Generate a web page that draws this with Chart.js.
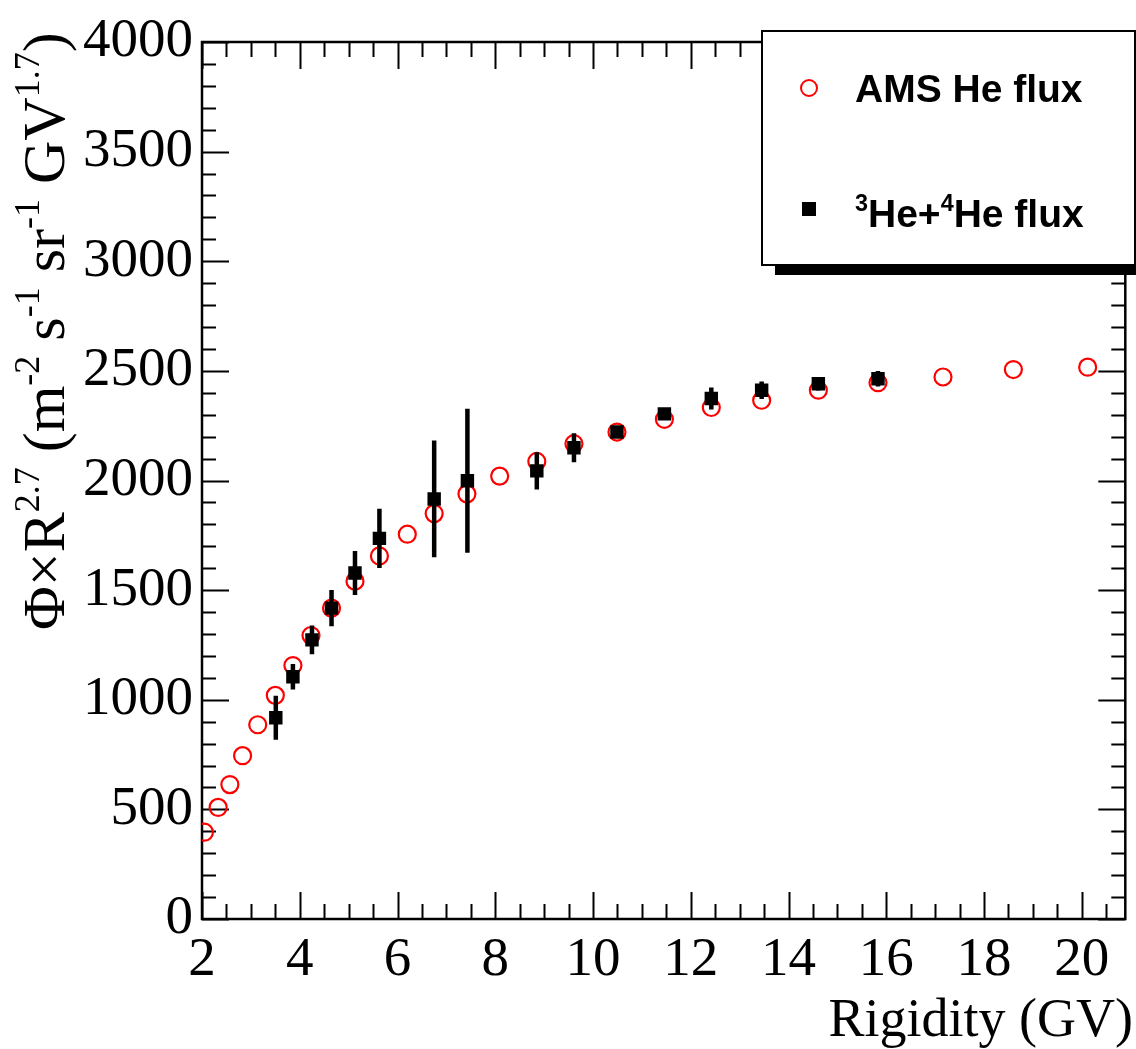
<!DOCTYPE html>
<html>
<head>
<meta charset="utf-8">
<script src="https://cdn.jsdelivr.net/npm/chart.js@4.4.1/dist/chart.umd.min.js"></script>
<style>
  html, body { margin: 0; padding: 0; background: #fff; overflow: hidden; }
</style>
</head>
<body>
<canvas id="myChart" width="1136" height="1049"></canvas>
<script>
// AMS helium flux (open red circles)
const amsRigidity = [2.05, 2.33, 2.57, 2.83, 3.14, 3.50, 3.86, 4.23, 4.65, 5.13, 5.63, 6.20, 6.75,
  7.42, 8.09, 8.85, 9.61, 10.49, 11.46, 12.42, 13.45, 14.61, 15.83, 17.16, 18.60, 20.12];
const amsFlux = [396, 509, 613, 745, 886, 1020, 1156, 1293, 1418, 1541, 1656, 1755, 1849,
  1939, 2020, 2087, 2168, 2221, 2279, 2333, 2366, 2412, 2446, 2472, 2506, 2517];

// 3He + 4He flux (black squares) with its errors
const heRigidity = [3.51, 3.86, 4.25, 4.65, 5.13, 5.63, 6.75, 7.43, 8.85, 9.61, 10.49, 11.46, 12.42, 13.45, 14.61, 15.83];
const heFlux = [918, 1105, 1273, 1418, 1578, 1736, 1916, 1999, 2044, 2149, 2221, 2304, 2374, 2412, 2441, 2464];
const heError = [100, 58, 66, 83, 100, 135, 266, 328, 85, 66, 18, 20, 50, 40, 30, 35];

// axes
const xTicks = [2, 4, 6, 8, 10, 12, 14, 16, 18, 20];
const yTicks = [0, 500, 1000, 1500, 2000, 2500, 3000, 3500, 4000];

const serif = "'Liberation Serif', 'Times New Roman', serif";
const sans = "'Liberation Sans', Arial, sans-serif";

// draws a list of text pieces, superscripts raised and smaller
function drawRuns(ctx, runs, x, y, size, weight, family) {
  let cx = x;
  for (const r of runs) {
    const fs = r.sup ? size * 0.6 : size;
    ctx.font = weight + ' ' + fs + 'px ' + family;
    ctx.fillText(r.t, cx, r.sup ? y - size * 0.42 : y);
    cx += ctx.measureText(r.t).width;
  }
  return cx - x;
}

// frame on all four sides with inner major/minor ticks
const frameAxes = {
  id: 'frameAxes',
  beforeDatasetsDraw(chart) {
    const { ctx, chartArea: a, scales: { x, y } } = chart;
    ctx.save();
    ctx.strokeStyle = '#000';
    ctx.lineWidth = 2;
    ctx.beginPath();
    for (let v = 2; v <= x.max; v += 0.5) {
      const px = Math.round(x.getPixelForValue(v)) + 0.5;
      const len = v % 2 === 0 ? 27 : 15;
      ctx.moveTo(px, a.bottom); ctx.lineTo(px, a.bottom - len);
      ctx.moveTo(px, a.top); ctx.lineTo(px, a.top + len);
    }
    for (let v = 0; v <= 4000; v += 100) {
      const py = Math.round(y.getPixelForValue(v)) + 0.5;
      const len = v % 500 === 0 ? 27 : 14;
      ctx.moveTo(a.left, py); ctx.lineTo(a.left + len, py);
      ctx.moveTo(a.right, py); ctx.lineTo(a.right - len, py);
    }
    ctx.stroke();
    ctx.lineWidth = 2.5;
    ctx.strokeRect(a.left, a.top, a.right - a.left, a.bottom - a.top);
    ctx.restore();
  },
  afterDatasetsDraw(chart) {
    // vertical error bars of the black points
    const { ctx, scales: { x, y } } = chart;
    ctx.save();
    ctx.strokeStyle = '#000';
    ctx.lineWidth = 4.5;
    ctx.beginPath();
    heRigidity.forEach((r, i) => {
      const px = x.getPixelForValue(r);
      ctx.moveTo(px, y.getPixelForValue(heFlux[i] - heError[i]));
      ctx.lineTo(px, y.getPixelForValue(heFlux[i] + heError[i]));
    });
    ctx.stroke();
    ctx.restore();
  },
  afterDraw(chart) {
    const { ctx } = chart;
    ctx.save();
    ctx.fillStyle = '#000';

    // y axis title, rotated
    ctx.translate(64, 630);
    ctx.rotate(-Math.PI / 2);
    ctx.textAlign = 'left';
    ctx.textBaseline = 'alphabetic';
    drawRuns(ctx, [
      { t: 'Φ×R' }, { t: '2.7', sup: true }, { t: ' (m' }, { t: '-2', sup: true },
      { t: ' s' }, { t: '-1', sup: true }, { t: ' sr' }, { t: '-1', sup: true },
      { t: ' GV' }, { t: '1.7', sup: true }, { t: ')' }
    ], 0, 0, 60, 'normal', serif);
    ctx.setTransform(1, 0, 0, 1, 0, 0);

    // x axis title
    ctx.font = '54px ' + serif;
    ctx.textAlign = 'right';
    ctx.fillText('Rigidity (GV)', 1133, 1036);

    // legend box with shadow
    ctx.fillStyle = '#000';
    ctx.fillRect(775, 265, 361, 10);
    ctx.fillStyle = '#fff';
    ctx.fillRect(762, 31, 373, 234);
    ctx.strokeStyle = '#000';
    ctx.lineWidth = 2;
    ctx.strokeRect(762, 31, 373, 234);

    ctx.strokeStyle = '#ff0000';
    ctx.lineWidth = 2;
    ctx.beginPath();
    ctx.arc(809, 88, 8, 0, Math.PI * 2);
    ctx.stroke();
    ctx.fillStyle = '#000';
    ctx.fillRect(802, 202, 14, 14);

    ctx.textAlign = 'left';
    ctx.font = 'bold 39px ' + sans;
    ctx.fillText('AMS He flux', 855, 102);
    drawRuns(ctx, [{ t: '3', sup: true }, { t: 'He+' }, { t: '4', sup: true }, { t: 'He flux' }],
      855, 227, 39, 'bold', sans);
    ctx.restore();
  }
};

const data = {
  datasets: [
    {
      label: '3He+4He flux',
      data: heRigidity.map((r, i) => ({ x: r, y: heFlux[i] })),
      pointStyle: 'rect',
      pointRadius: 9.5,
      backgroundColor: '#000',
      borderColor: '#000',
      borderWidth: 0,
      showLine: false,
      order: 0
    },
    {
      label: 'AMS He flux',
      data: amsRigidity.map((r, i) => ({ x: r, y: amsFlux[i] })),
      pointStyle: 'circle',
      pointRadius: 8.5,
      backgroundColor: 'rgba(0,0,0,0)',
      borderColor: '#ff0000',
      borderWidth: 2.2,
      showLine: false,
      order: 1
    }
  ]
};

const config = {
  type: 'scatter',
  data: data,
  options: {
    responsive: false,
    animation: false,
    layout: { padding: { top: 31, right: 2, left: 0, bottom: 0 } },
    plugins: { legend: { display: false }, tooltip: { enabled: false } },
    scales: {
      x: {
        type: 'linear',
        min: 2,
        max: 20.89,
        grid: { display: false, drawTicks: false },
        border: { display: false },
        afterBuildTicks: s => { s.ticks = xTicks.map(v => ({ value: v })); },
        afterFit: s => { s.height = 130; },
        ticks: {
          font: { family: serif, size: 55 },
          color: '#000',
          padding: 9,
          maxRotation: 0,
          autoSkip: false,
          callback: v => String(v)
        }
      },
      y: {
        type: 'linear',
        min: 0,
        max: 4000,
        grid: { display: false, drawTicks: false },
        border: { display: false },
        afterBuildTicks: s => { s.ticks = yTicks.map(v => ({ value: v })); },
        afterFit: s => { s.width = 202; },
        ticks: {
          font: { family: serif, size: 55 },
          color: '#000',
          padding: 9,
          autoSkip: false,
          callback: v => String(v)
        }
      }
    }
  },
  plugins: [frameAxes]
};

let context = document.getElementById('myChart').getContext('2d');
let chart = new Chart(context, config);
</script>
</body>
</html>
